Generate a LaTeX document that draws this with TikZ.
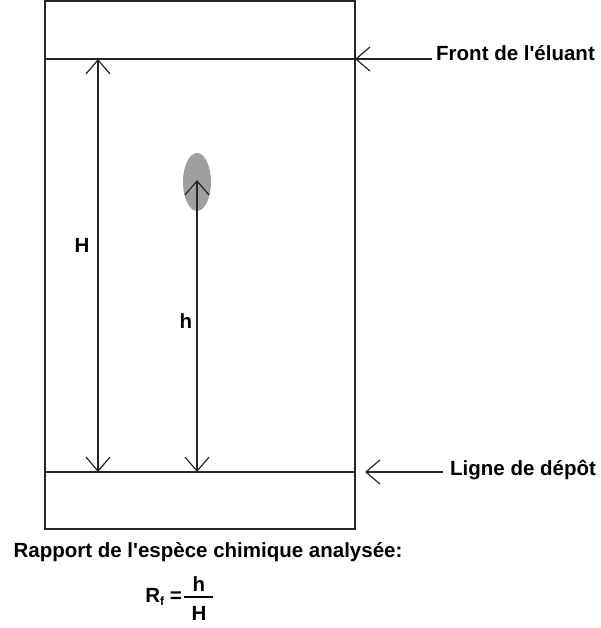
\documentclass[tikz,border=0pt]{standalone}
\usepackage{fontspec}
\setmainfont{Liberation Sans}[Ligatures=TeXOff]
\usetikzlibrary{arrows.meta}
\begin{document}
\begin{tikzpicture}[x=1pt,y=-1pt,
  ln/.style={line width=1.2pt,draw=black!85},
  tip/.tip={Straight Barb[length=14pt,width=24pt,line width=1.2pt]},
  barb/.style={-tip},
  lbl/.style={font=\bfseries\fontsize{20.5}{24}\selectfont,inner sep=0pt}]
\useasboundingbox (0,0) rectangle (600,628);
\draw[ln] (45,1) rectangle (355,529);
\coordinate (ftl) at (45,59); \coordinate (ftr) at (355,59);
\coordinate (btl) at (45,472); \coordinate (btr) at (355,472);
\draw[ln] (ftl) -- (ftr);
\draw[ln] (btl) -- (btr);
\fill[gray!75] (197,182) ellipse (14 and 29);
\node[lbl,anchor=west] (front) at (436,53) {Front de l'éluant};
\node[lbl,anchor=west] (ligne) at (450,470) {Ligne de dépôt};
\coordinate (fa) at (432,59);
\coordinate (la) at (443,472);
\coordinate (lt) at (365,472);
\draw[ln,barb] (fa) -- (ftr);
\draw[ln,barb] (la) -- (lt);
\coordinate (Ht) at (98,59); \coordinate (Hb) at (98,472);
\draw[ln,tip-tip] (Ht) -- (Hb);
\coordinate (hb) at (197,472); \coordinate (ht) at (197,180);
\draw[ln,tip-tip] (hb) -- (ht);
\node[lbl] (Hl) at (82,245) {H};
\node[lbl] (hl) at (186,321) {h};
\node[lbl] (rap) at (208,552) {Rapport de l'espèce chimique analysée:};
\node[lbl,anchor=east] (rf) at (182,597) {R\raisebox{-0.25ex}{\fontsize{12}{14}\selectfont f} =};
\node[lbl] (num) at (199,584) {h};
\node[lbl] (den) at (199,613) {H};
\draw[line width=1.6pt] (184,597) -- (213,597);
\end{tikzpicture}
\end{document}
